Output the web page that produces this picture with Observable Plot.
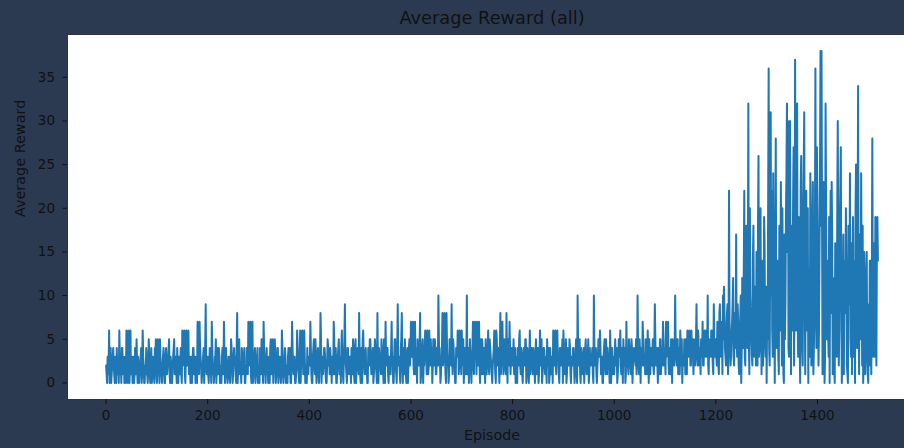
<!DOCTYPE html>
<html><head><meta charset="utf-8">
<script src="https://cdn.jsdelivr.net/npm/d3@7"></script>
<script src="https://cdn.jsdelivr.net/npm/@observablehq/plot@0.6"></script>
<style>html,body{margin:0;padding:0;background:#2b3a51;overflow:hidden}</style>
</head><body><div id="chart"></div>
<script>
// Average reward per episode.
// "Even" arrays hold episodes start, start+2, ...; "Odd" arrays hold start+1, start+3, ...
const rewardsEp0Even = [
  2,0,1,6,3,0,2,4,1,3,0,2,3,6,1,0,4,2,0,3,
  6,1,6,0,6,2,0,3,1,4,5,0,2,1,3,0,6,2,0,1,
  3,0,5,1,2,0,3,1,4,5,0,5,2,5,1,0,3,2,0,4,
  1,3,5,0,2,0,3,5,1,2,4,0,3,2,1,6,3,6,0,6,
  2,6,1,0,3,2,4,1,0,3,7,2,7,3,0,1,4,2,9,1,
  3,0,4,2,7,1,0,3,5,2,1,4,0,2,3,1,7,0,4,2,
  1,3,0,5,2,1,4,3,0,8,2,5,1,0,3,2,4,0,1,3,
  7,2,7,0,7,1,3,0,2,4,1,0,3,5,2,7,1,0,4,2,
  3,0,5,1,5,2,5,0,2,4,1,3,0,6,2,1,4,0,2,3,
  1,4,0,7,2,3,0,1,6,2,0,6,3,6,1,6,0,2,4,1
];
const rewardsEp0Odd = [
  1,3,2,0,4,1,3,2,0,2,4,1,0,3,2,4,1,3,2,0,
  3,0,4,2,1,3,2,0,4,1,2,3,0,2,4,1,3,0,2,4,
  1,2,3,0,4,1,2,0,3,1,2,4,0,3,1,2,4,0,3,1,
  2,4,1,3,0,2,4,1,3,0,2,3,1,4,0,3,2,1,3,2,
  4,1,3,2,0,4,1,3,2,0,3,1,4,2,1,3,0,4,2,3,
  1,2,3,0,4,2,1,3,0,4,2,3,1,0,4,2,3,1,2,0,
  3,1,2,4,0,3,2,1,4,0,3,1,2,4,1,3,0,2,4,1,
  2,4,1,3,0,2,4,1,3,0,2,4,1,3,0,4,2,3,1,0,
  2,4,1,3,0,2,3,1,4,0,3,2,1,4,0,2,3,1,0,4,
  3,0,2,4,1,3,0,2,4,1,3,0,2,4,1,3,2,0,1,3
];
const rewardsEp400Even = [
  3,7,1,0,4,2,5,0,3,1,2,8,0,3,2,4,1,0,5,2,
  1,3,0,2,7,1,4,0,3,5,2,0,6,1,3,9,2,0,4,1,
  3,0,2,5,1,4,0,2,3,8,1,4,0,6,2,3,1,0,4,2,
  5,1,3,0,2,4,1,8,0,3,2,5,1,0,3,7,2,4,0,3,
  1,7,3,0,5,2,0,9,3,1,4,8,0,2,5,1,3,0,4,2,
  7,3,7,1,7,4,0,3,2,8,1,4,0,2,6,3,6,1,6,2,
  3,0,5,2,4,1,3,10,2,0,4,8,3,8,1,8,2,0,5,3,
  9,1,4,2,0,3,6,1,6,3,6,2,0,4,1,10,3,0,5,2,
  3,7,1,7,4,7,2,7,0,3,5,1,4,0,2,3,6,1,4,2,
  0,3,6,1,6,2,4,0,8,3,7,1,5,2,8,0,3,7,1,4
];
const rewardsEp400Odd = [
  2,4,0,3,5,1,3,2,4,0,3,5,2,1,4,3,0,2,4,3,
  4,2,3,1,5,3,0,2,4,1,3,4,2,0,5,3,1,4,2,3,
  2,4,1,3,0,5,2,4,1,3,0,2,5,3,1,4,2,0,3,5,
  3,2,4,1,5,3,0,2,4,3,1,4,2,5,0,3,4,1,3,2,
  4,2,0,3,5,1,4,2,3,0,5,2,4,1,3,0,4,2,5,3,
  3,5,2,4,1,3,5,2,4,0,3,5,2,4,3,1,4,2,3,5,
  4,2,3,5,1,4,2,5,3,1,4,2,5,3,0,4,3,1,4,2,
  3,5,2,0,4,3,5,2,4,1,3,5,2,4,3,1,4,2,3,0,
  4,2,5,3,1,4,3,2,5,1,4,2,3,5,1,4,2,5,3,1,
  2,4,3,0,5,3,2,4,1,5,3,2,4,1,3,5,2,4,3,2
];
const rewardsEp800Even = [
  2,5,1,0,3,4,2,6,1,3,0,4,2,5,1,3,0,6,2,4,
  1,3,0,5,2,4,1,6,3,0,2,4,1,3,5,2,0,4,1,3,
  6,2,6,1,6,3,0,4,2,5,6,1,3,0,4,2,5,1,3,2,
  4,0,3,1,10,2,5,0,3,1,4,2,5,1,3,0,4,2,3,1,
  10,2,4,0,3,5,6,1,3,0,4,2,5,1,3,2,6,0,4,3,
  1,5,3,0,2,4,6,1,3,5,2,0,7,3,1,4,2,5,0,3,
  4,2,1,10,3,5,0,4,7,2,3,5,1,6,0,3,4,2,5,1,
  9,2,4,0,3,5,1,4,7,2,3,7,4,7,1,3,5,0,4,2,
  10,3,5,1,4,6,2,0,3,5,1,4,6,3,6,2,6,5,1,3,
  4,9,2,5,3,1,4,7,2,6,3,5,10,1,4,3,6,2,9,3
];
const rewardsEp800Odd = [
  3,1,4,2,0,3,5,2,4,1,3,2,5,0,4,2,3,1,4,2,
  4,2,3,1,4,0,3,2,5,1,4,3,2,0,3,4,1,2,3,0,
  3,4,2,5,3,1,4,2,3,0,4,2,5,1,3,2,4,0,2,4,
  2,3,5,0,4,3,1,4,2,3,0,4,2,3,5,1,2,3,4,0,
  4,3,1,2,5,3,4,2,0,3,5,1,3,4,2,0,3,4,1,2,
  3,2,4,1,5,3,2,4,0,3,4,1,3,2,5,3,1,4,2,4,
  3,5,2,4,1,3,4,2,5,3,1,4,2,3,5,1,4,3,2,4,
  5,3,2,4,1,5,3,2,5,4,1,3,5,2,4,1,3,5,2,4,
  4,2,5,3,1,4,5,3,2,4,5,1,3,5,4,2,4,3,5,2,
  5,3,6,2,4,5,3,2,5,4,6,3,2,5,3,6,4,1,5,4
];
const rewardsEp1200Even = [
  5,2,6,1,9,3,7,10,11,4,2,8,1,22,5,3,7,12,2,6,
  17,3,7,1,7,0,12,4,22,2,18,4,32,1,10,5,2,18,3,9,
  15,2,26,4,20,1,10,6,16,3,0,5,36,2,31,22,3,12,0,28,
  4,14,1,8,23,2,10,0,5,19,32,30,3,30,1,9,20,2,37,6,
  32,3,12,0,26,4,18,31,1,22,10,0,6,24,2,15,1,8,36,4,
  20,2,15,38,38,1,23,0,32,5,14,3,0,22,23,1,8,0,12,3,
  30,2,18,27,0,9,1,14,20,2,0,15,24,3,1,19,6,0,25,4,
  34,1,13,24,2,0,15,1,12,3,0,2,14,1,28,3,8,19,2,19
];
const rewardsEp1200Odd = [
  3,7,2,8,4,6,1,5,8,3,6,9,4,7,2,5,9,3,8,4,
  5,9,2,6,10,4,8,13,3,15,7,11,5,20,8,3,14,6,11,2,
  9,18,3,12,7,14,2,19,5,11,8,21,4,16,10,6,24,9,15,5,
  11,3,18,6,13,20,1,17,9,24,15,4,22,12,18,6,27,10,15,21,
  8,19,5,22,14,2,25,10,17,6,20,13,3,18,11,23,4,16,9,27,
  12,6,24,18,20,9,15,3,21,11,6,19,14,8,17,12,2,16,7,20,
  14,6,22,10,4,17,12,8,13,1,18,9,5,16,11,3,14,20,8,15,
  9,17,5,12,18,3,10,6,15,1,9,14,4,11,7,16,3,12,17,14
];
const segmentStarts = [0, 400, 800, 1200];
const xTicks = [0, 200, 400, 600, 800, 1000, 1200, 1400];
const yTicks = [0, 5, 10, 15, 20, 25, 30, 35];
const titleText = "Average Reward (all)";
const xLabel = "Episode";
const yLabel = "Average Reward";

const evenParts = [rewardsEp0Even, rewardsEp400Even, rewardsEp800Even, rewardsEp1200Even];
const oddParts = [rewardsEp0Odd, rewardsEp400Odd, rewardsEp800Odd, rewardsEp1200Odd];
const data = segmentStarts.flatMap((start, s) =>
  evenParts[s].flatMap((r, i) => [
    {episode: start + 2 * i, reward: r},
    {episode: start + 2 * i + 1, reward: oddParts[s][i]}
  ]));

const maxEp = d3.max(data, d => d.episode);
const maxR = d3.max(data, d => d.reward);

const chart = Plot.plot({
  width: 904,
  height: 448,
  marginLeft: 67,
  marginRight: -12,
  marginTop: 34,
  marginBottom: 49,
  style: {background: "#2b3a51", fontFamily: "DejaVu Sans", color: "#111", overflow: "hidden"},
  x: {domain: [-0.05 * maxEp, maxEp * 1.05]},
  y: {domain: [-0.05 * maxR, maxR * 1.05]},
  marks: [
    Plot.frame({fill: "white", stroke: "#333", strokeWidth: 1}),
    Plot.line(data, {x: "episode", y: "reward", stroke: "#1f77b4", strokeWidth: 2}),
    Plot.axisX({ticks: xTicks, tickSize: 5, tickPadding: 6, fontSize: 13.5, tickFormat: d => String(d), label: null}),
    Plot.axisY({ticks: yTicks, tickSize: 4.5, tickPadding: 8, fontSize: 13.5, tickFormat: d => String(d), label: null}),
    Plot.text([titleText], {frameAnchor: "top", lineAnchor: "middle", dy: -16, fontSize: 17.8, fill: "#111"}),
    Plot.text([xLabel], {frameAnchor: "bottom", lineAnchor: "middle", dy: 36, fontSize: 14.3, fill: "#111"}),
    Plot.text([yLabel], {frameAnchor: "left", lineAnchor: "middle", dx: -47, rotate: -90, fontSize: 14.4, fill: "#111"})
  ]
});
document.getElementById("chart").appendChild(chart);
</script>
</body></html>
